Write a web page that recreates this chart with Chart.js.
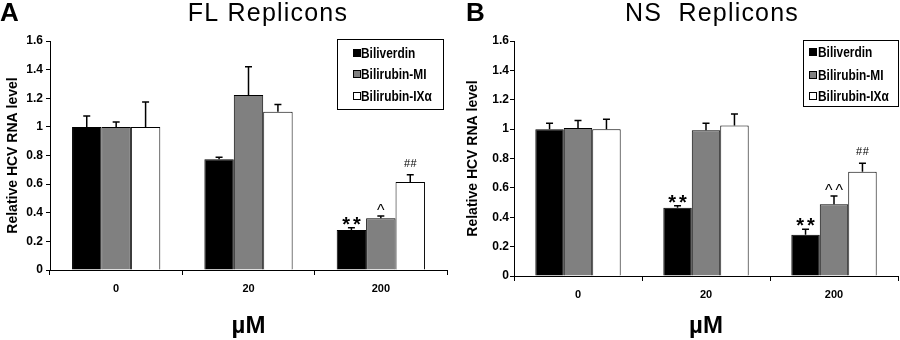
<!DOCTYPE html>
<html>
<head>
<meta charset="utf-8">
<script src="https://cdn.jsdelivr.net/npm/chart.js@4"></script>
<style>
  body { margin: 0; background: #fff; }
  #wrap { position: relative; width: 900px; height: 340px; }
  canvas { position: absolute; top: 0; }
</style>
</head>
<body>
<div id="wrap">
  <canvas id="chartA" width="450" height="340" style="left:0"></canvas>
  <canvas id="chartB" width="450" height="340" style="left:450px"></canvas>
</div>
<script>
// categories and series
const categories = ['0', '20', '200'];
const seriesNames = ['Biliverdin', 'Bilirubin-MI', 'Bilirubin-IX\u03b1'];
const seriesColors = ['#000000', '#808080', '#ffffff'];
const yTicks = [0, 0.2, 0.4, 0.6, 0.8, 1, 1.2, 1.4, 1.6];

// panel A - FL replicons (mean, sd)
const flBiliverdin = [1.0, 0.773, 0.279];
const flBiliverdinSd = [0.076, 0.014, 0.017];
const flMI = [1.0, 1.222, 0.361];
const flMISd = [0.034, 0.198, 0.016];
const flIX = [1.0, 1.106, 0.615];
const flIXSd = [0.174, 0.051, 0.051];
const flMarks = [['', '', '**'], ['', '', '^'], ['', '', '##']];

// panel B - NS replicons
const nsBiliverdin = [1.0, 0.465, 0.281];
const nsBiliverdinSd = [0.040, 0.014, 0.037];
const nsMI = [1.008, 0.992, 0.488];
const nsMISd = [0.050, 0.048, 0.057];
const nsIX = [1.0, 1.024, 0.710];
const nsIXSd = [0.067, 0.079, 0.057];
const nsMarks = [['', '**', '**'], ['', '', '^^'], ['', '', '##']];

const FONT = '"Liberation Sans", Arial, Helvetica, sans-serif';

// error bars (upper only) + significance marks
const errorBars = {
  id: 'errorBars',
  afterDatasetsDraw(chart) {
    const ctx = chart.ctx;
    const y = chart.scales.y;
    const o = chart.options.plugins.errorBars;
    ctx.save();
    chart.data.datasets.forEach((ds, i) => {
      const meta = chart.getDatasetMeta(i);
      meta.data.forEach((bar, j) => {
        const top = y.getPixelForValue(ds.data[j] + ds.sd[j]);
        ctx.strokeStyle = '#000';
        ctx.lineWidth = 1.5;
        ctx.beginPath();
        ctx.moveTo(bar.x, bar.y);
        ctx.lineTo(bar.x, top);
        ctx.moveTo(bar.x - 3.5, top);
        ctx.lineTo(bar.x + 3.5, top);
        ctx.stroke();
        const m = o.marks[i][j];
        if (!m) return;
        ctx.fillStyle = '#000';
        ctx.textAlign = 'center';
        ctx.textBaseline = 'alphabetic';
        let base, sp;
        if (m[0] === '*') { ctx.font = 'bold 20px ' + FONT; base = top + 3; sp = 3; }
        else if (m[0] === '^') { ctx.font = '16px ' + FONT; base = top; sp = 3; }
        else { ctx.font = '11px ' + FONT; base = top - 8; sp = 0.5; }
        ctx.letterSpacing = sp + 'px';
        ctx.fillText(m, bar.x + sp / 2, base);
        ctx.letterSpacing = '0px';
      });
    });
    ctx.restore();
  }
};

// boxed legend, panel letter and title
const decor = {
  id: 'decor',
  afterDraw(chart) {
    const ctx = chart.ctx;
    const o = chart.options.plugins.decor;
    ctx.save();
    ctx.fillStyle = '#000';
    ctx.textBaseline = 'alphabetic';
    ctx.font = 'bold 26px ' + FONT;
    ctx.textAlign = 'left';
    ctx.fillText(o.letter, o.letterX, 21);
    ctx.font = '25px ' + FONT;
    ctx.textAlign = 'center';
    ctx.letterSpacing = '1.2px';
    ctx.fillText(o.title, o.titleX, 21);
    ctx.letterSpacing = '0px';

    const b = o.box;
    ctx.fillStyle = '#fff';
    ctx.fillRect(b.x, b.y, b.w, b.h);
    ctx.strokeStyle = '#000';
    ctx.lineWidth = 1;
    ctx.strokeRect(b.x + 0.5, b.y + 0.5, b.w, b.h);
    ctx.textAlign = 'left';
    ctx.textBaseline = 'middle';
    chart.data.datasets.forEach((ds, i) => {
      const yy = b.y + b.rows[i];
      ctx.fillStyle = ds.backgroundColor;
      ctx.fillRect(b.sx, yy - 4, 8, 8);
      ctx.strokeRect(b.sx + 0.5, yy - 3.5, 7, 7);
      ctx.fillStyle = '#000';
      ctx.save();
      ctx.translate(b.tx, yy + 1);
      ctx.scale(0.85, 1);
      ctx.font = 'bold 14px ' + FONT;
      ctx.fillText(ds.label, 0, 0);
      ctx.restore();
    });
    ctx.restore();
  }
};

function makeChart(id, values, sds, marks, cfg) {
  return new Chart(document.getElementById(id), {
    type: 'bar',
    data: {
      labels: categories,
      datasets: values.map((v, i) => ({
        label: seriesNames[i],
        data: v,
        sd: sds[i],
        backgroundColor: seriesColors[i],
        borderColor: '#000',
        borderWidth: 1,
        categoryPercentage: 0.667,
        barPercentage: 1.0
      }))
    },
    options: {
      responsive: false,
      animation: false,
      devicePixelRatio: 1,
      layout: { padding: { top: 41, right: cfg.right, left: 0, bottom: 0 } },
      plugins: {
        legend: { display: false },
        tooltip: { enabled: false },
        errorBars: { marks: marks },
        decor: cfg.decor
      },
      scales: {
        x: {
          afterFit(s) { s.height = cfg.xHeight; },
          grid: { offset: true, drawOnChartArea: false, tickLength: 5, color: '#000' },
          border: { color: '#000', width: 1 },
          ticks: { color: '#000', padding: 7, font: { family: FONT, size: 11, weight: 'bold' } },
          title: {
            display: true, text: '\u00b5M', color: '#000',
            font: { family: FONT, size: 24, weight: 'bold' },
            padding: { top: 0, bottom: -1 }
          }
        },
        y: {
          min: 0, max: 1.6,
          afterFit(s) { s.width = cfg.yWidth; },
          afterBuildTicks(s) { s.ticks = yTicks.map(v => ({ value: v })); },
          grid: { drawOnChartArea: false, tickLength: 4, color: '#000' },
          border: { color: '#000', width: 1 },
          ticks: {
            color: '#000', padding: cfg.tickPad,
            font: { family: FONT, size: 12, weight: 'bold' },
            callback: v => String(+v.toFixed(1))
          },
          title: {
            display: true, text: 'Relative HCV RNA level', color: '#000',
            font: { family: FONT, size: 14, weight: 'bold' },
            padding: { top: cfg.yTitlePad, bottom: 0 }
          }
        }
      }
    },
    plugins: [errorBars, decor]
  });
}

makeChart('chartA', [flBiliverdin, flMI, flIX], [flBiliverdinSd, flMISd, flIXSd], flMarks, {
  right: 3, xHeight: 70, yWidth: 50, tickPad: 3, yTitlePad: 5,
  decor: {
    letter: 'A', letterX: 0, title: 'FL Replicons', titleX: 268,
    box: { x: 337, y: 39, w: 106, h: 70, rows: [14, 35, 57], sx: 353, tx: 361 }
  }
});

makeChart('chartB', [nsBiliverdin, nsMI, nsIX], [nsBiliverdinSd, nsMISd, nsIXSd], nsMarks, {
  right: 2, xHeight: 64, yWidth: 64, tickPad: 1, yTitlePad: 15,
  decor: {
    letter: 'B', letterX: 16, title: 'NS  Replicons', titleX: 262,
    box: { x: 353, y: 40, w: 95, h: 66, rows: [12, 35, 56], sx: 359, tx: 368 }
  }
});
</script>
</body>
</html>
